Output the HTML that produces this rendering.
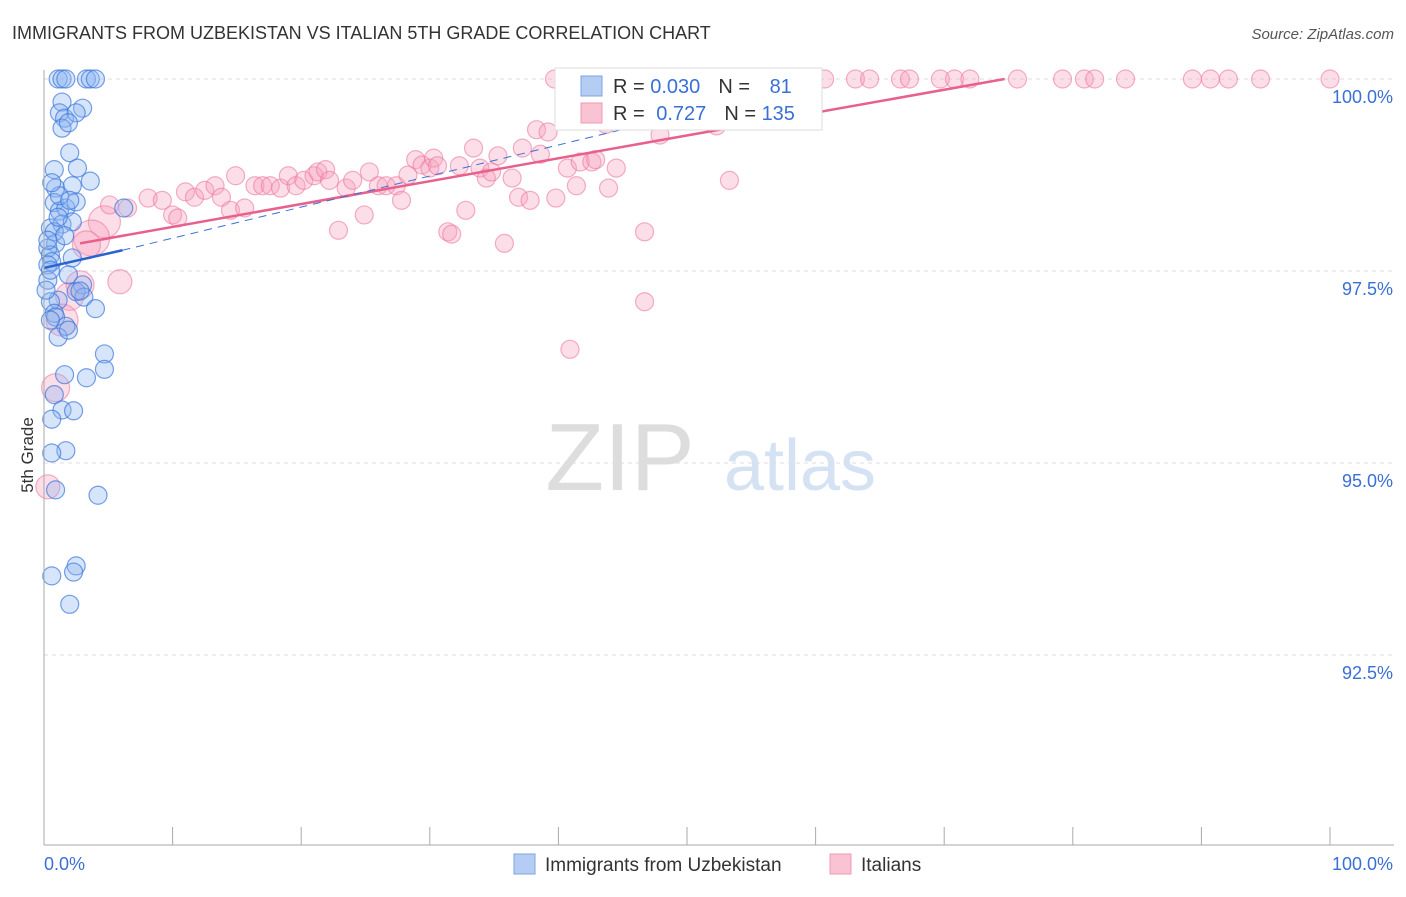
<!DOCTYPE html>
<html><head><meta charset="utf-8"><style>
body{margin:0;background:#fff;font-family:"Liberation Sans",sans-serif;}
svg text{font-family:"Liberation Sans",sans-serif;}
</style></head><body>
<svg id="c" width="1406" height="892">
<text x="12" y="39" font-size="18" fill="#333">IMMIGRANTS FROM UZBEKISTAN VS ITALIAN 5TH GRADE CORRELATION CHART</text>
<text x="1394" y="39" font-size="15" fill="#555" font-style="italic" text-anchor="end">Source: ZipAtlas.com</text>
<text x="33" y="455" font-size="17" fill="#333" transform="rotate(-90 33 455)" text-anchor="middle">5th Grade</text>
<text x="620" y="490" font-size="96" fill="#ddd" font-family="Liberation Serif" text-anchor="middle">ZIP</text>
<text x="800" y="490" font-size="72" fill="#d4e2f4" text-anchor="middle">atlas</text>
<g id="grid"></g><g id="marks"></g><g id="axes"></g>
<g>
<rect x="555" y="68" width="267" height="62" fill="#fff" stroke="#ddd"/>
<rect x="581" y="76" width="21" height="20" fill="#b5ccf3" stroke="#7da3e6"/>
<rect x="581" y="103" width="21" height="20" fill="#f9c3d3" stroke="#f09ab6"/>
<text x="613" y="93" font-size="20" fill="#333"><tspan>R = </tspan><tspan fill="#3a6fd6">0.030</tspan><tspan dx="18">N = </tspan><tspan fill="#3a6fd6" dx="14">81</tspan></text>
<text x="613" y="120" font-size="20" fill="#333"><tspan>R = </tspan><tspan fill="#3a6fd6" dx="6">0.727</tspan><tspan dx="18">N = </tspan><tspan fill="#3a6fd6">135</tspan></text>
</g>
<g>
<rect x="514" y="854" width="21" height="20" fill="#b5ccf3" stroke="#7da3e6"/>
<text x="545" y="871" font-size="19" fill="#333">Immigrants from Uzbekistan</text>
<rect x="830" y="854" width="21" height="20" fill="#f9c3d3" stroke="#f09ab6"/>
<text x="861" y="871" font-size="19" fill="#333">Italians</text>
</g>
</svg>
<script>
const blueX=[1.1,1.4,1.7,3.3,3.6,4.0,1.4,3.0,1.2,1.6,2.5,1.4,1.9,2.0,0.8,2.6,3.6,0.9,2.2,0.8,1.2,1.7,2.5,6.2,1.4,2.2,0.5,0.9,0.3,0.5,0.6,0.3,1.9,3.0,2.5,3.1,1.1,0.5,4.0,0.8,0.9,1.7,1.1,4.7,1.6,4.7,3.3,0.8,1.4,2.3,0.6,1.7,0.6,0.9,4.2,2.5,0.6,2.3,2.0,0.3,0.16,0.5,0.8,1.1,1.2,0.6,2.0,1.6,0.3,2.2,2.8,0.5,1.9];
const blueY=[100,100,100,100,100,100,99.70,99.62,99.56,99.49,99.56,99.36,99.43,99.04,98.82,98.84,98.67,98.58,98.61,98.39,98.28,98.32,98.40,98.32,98.11,98.14,98.06,97.86,97.80,97.71,97.62,97.58,97.45,97.32,97.23,97.16,97.12,97.10,97.01,96.95,96.90,96.78,96.64,96.42,96.15,96.22,96.11,95.89,95.69,95.68,95.57,95.16,95.13,94.65,94.58,93.66,93.53,93.58,93.16,97.38,97.25,97.51,98.01,98.20,98.48,98.65,98.42,97.96,97.90,97.67,97.24,96.86,96.73];
const pinkX=[39.7,41.3,42.5,43.2,44.8,46.3,47.9,49.5,51.0,52.6,54.1,55.7,56.8,58.0,58.8,60.7,63.1,64.2,66.6,67.3,69.7,70.8,72.0,75.7,79.2,80.9,81.7,84.1,89.3,90.7,92.1,94.6,100,
4.7,3.7,3.3,5.9,2.8,2.0,1.4,0.9,0.3,5.1,6.5,8.1,9.2,10.0,10.4,11.0,11.7,12.5,13.3,13.8,14.5,14.9,15.6,16.4,17.0,17.6,18.4,19.0,19.6,20.2,21.0,21.3,21.9,22.2,22.9,23.5,24.0,24.9,25.3,26.0,26.6,27.4,27.8,28.3,28.9,29.4,30.0,30.3,30.6,31.4,31.7,32.3,32.8,33.4,33.9,34.4,34.8,35.3,35.8,36.4,36.9,37.2,37.8,38.3,38.6,39.2,39.8,40.7,41.4,41.7,42.6,42.9,43.7,43.9,44.5,46.7,46.7,40.9,47.9,52.3,53.3,77.0];
const pinkY=[100,100,100,100,100,100,100,100,100,100,100,100,100,100,100,100,100,100,100,100,100,100,100,100,100,100,100,100,100,100,100,100,100,
98.14,97.93,97.84,97.36,97.32,97.17,96.86,95.98,94.69,98.36,98.32,98.45,98.42,98.23,98.19,98.53,98.46,98.55,98.61,98.46,98.29,98.74,98.32,98.61,98.61,98.61,98.58,98.74,98.61,98.68,98.74,98.79,98.82,98.68,98.03,98.58,98.68,98.23,98.79,98.61,98.61,98.61,98.42,98.75,98.95,98.88,98.84,98.97,98.87,98.01,97.98,98.87,98.29,99.10,98.84,98.71,98.79,99.00,97.86,98.71,98.46,99.10,98.42,99.34,99.02,99.31,98.45,98.84,98.61,98.92,98.92,98.95,99.41,98.58,98.84,98.01,97.10,96.48,99.27,99.39,98.68,97.50];
const pinkR=[9,9,9,9,9,9,9,9,9,9,9,9,9,9,9,9,9,9,9,9,9,9,9,9,9,9,9,9,9,9,9,9,9,
16,18,14,12,14,14,16,14,12,9,9,9,9,9,9,9,9,9,9,9,9,9,9,9,9,9,9,9,9,9,9,9,9,9,9,9,9,9,9,9,9,9,9,9,9,9,9,9,9,9,9,9,9,9,9,9,9,9,9,9,9,9,9,9,9,9,9,9,9,9,9,9,9,9,9,9,9,9,9,9,9];
const yTicks=[100,97.5,95,92.5];
const yTickLabels=["100.0%","97.5%","95.0%","92.5%"];
const pinkTrend=[[2.8,97.86],[74.7,100]];
const blueTrend=[[0,97.54],[6.1,97.77]];
const blueDash=[[6.1,97.77],[60,99.95]];
const NS="http://www.w3.org/2000/svg";
const X=v=>44+v*12.86, Y=v=>79+(100-v)*76.8;
function mk(t,a,p){const e=document.createElementNS(NS,t);for(const k in a)e.setAttribute(k,a[k]);p.appendChild(e);return e;}
const g=document.getElementById('grid'),m=document.getElementById('marks'),ax=document.getElementById('axes');
yTicks.forEach((t,i)=>{
 const l=mk('line',{x1:44,x2:1394,y1:Y(t),y2:Y(t),stroke:'#ddd','stroke-dasharray':'4 4'},g);
 
 
 const tx=mk('text',{x:1393,y:Y(t)+24,'font-size':18,fill:'#3a6fd6','text-anchor':'end'},ax);
 tx.textContent=yTickLabels[i];
 
 
});
const a1=mk('line',{x1:44,x2:44,y1:70,y2:845,stroke:'#aaa'},ax);


const a2=mk('line',{x1:44,x2:1394,y1:845,y2:845,stroke:'#aaa'},ax);


for(let i=0;i<=10;i++){const t=mk('line',{x1:X(i*10),x2:X(i*10),y1:827,y2:845,stroke:'#aaa'},ax);
 
 }
const xl=mk('text',{x:44,y:870,'font-size':18,fill:'#3a6fd6'},ax);xl.textContent='0.0%';


const xr=mk('text',{x:1393,y:870,'font-size':18,fill:'#3a6fd6','text-anchor':'end'},ax);xr.textContent='100.0%';


pinkX.forEach((v,i)=>{const c=mk('circle',{cx:X(v),cy:Y(pinkY[i]),r:pinkR[i],fill:'rgba(246,160,188,0.35)',stroke:'rgba(236,120,160,0.6)','stroke-width':1.2},m);
 
 });
blueX.forEach((v,i)=>{const c=mk('circle',{cx:X(v),cy:Y(blueY[i]),r:9,fill:'rgba(140,180,240,0.35)',stroke:'rgba(60,120,220,0.7)','stroke-width':1.2},m);
 
 });
const pl=mk('line',{x1:X(pinkTrend[0][0]),y1:Y(pinkTrend[0][1]),x2:X(pinkTrend[1][0]),y2:Y(pinkTrend[1][1]),stroke:'#e8608c','stroke-width':2.5},m);


const bd=mk('line',{x1:X(blueDash[0][0]),y1:Y(blueDash[0][1]),x2:X(blueDash[1][0]),y2:Y(blueDash[1][1]),stroke:'#3a6fd6','stroke-width':1,'stroke-dasharray':'8 6'},m);


const bl=mk('line',{x1:X(blueTrend[0][0]),y1:Y(blueTrend[0][1]),x2:X(blueTrend[1][0]),y2:Y(blueTrend[1][1]),stroke:'#2a62d0','stroke-width':2.5},m);


</script>
</body></html>
